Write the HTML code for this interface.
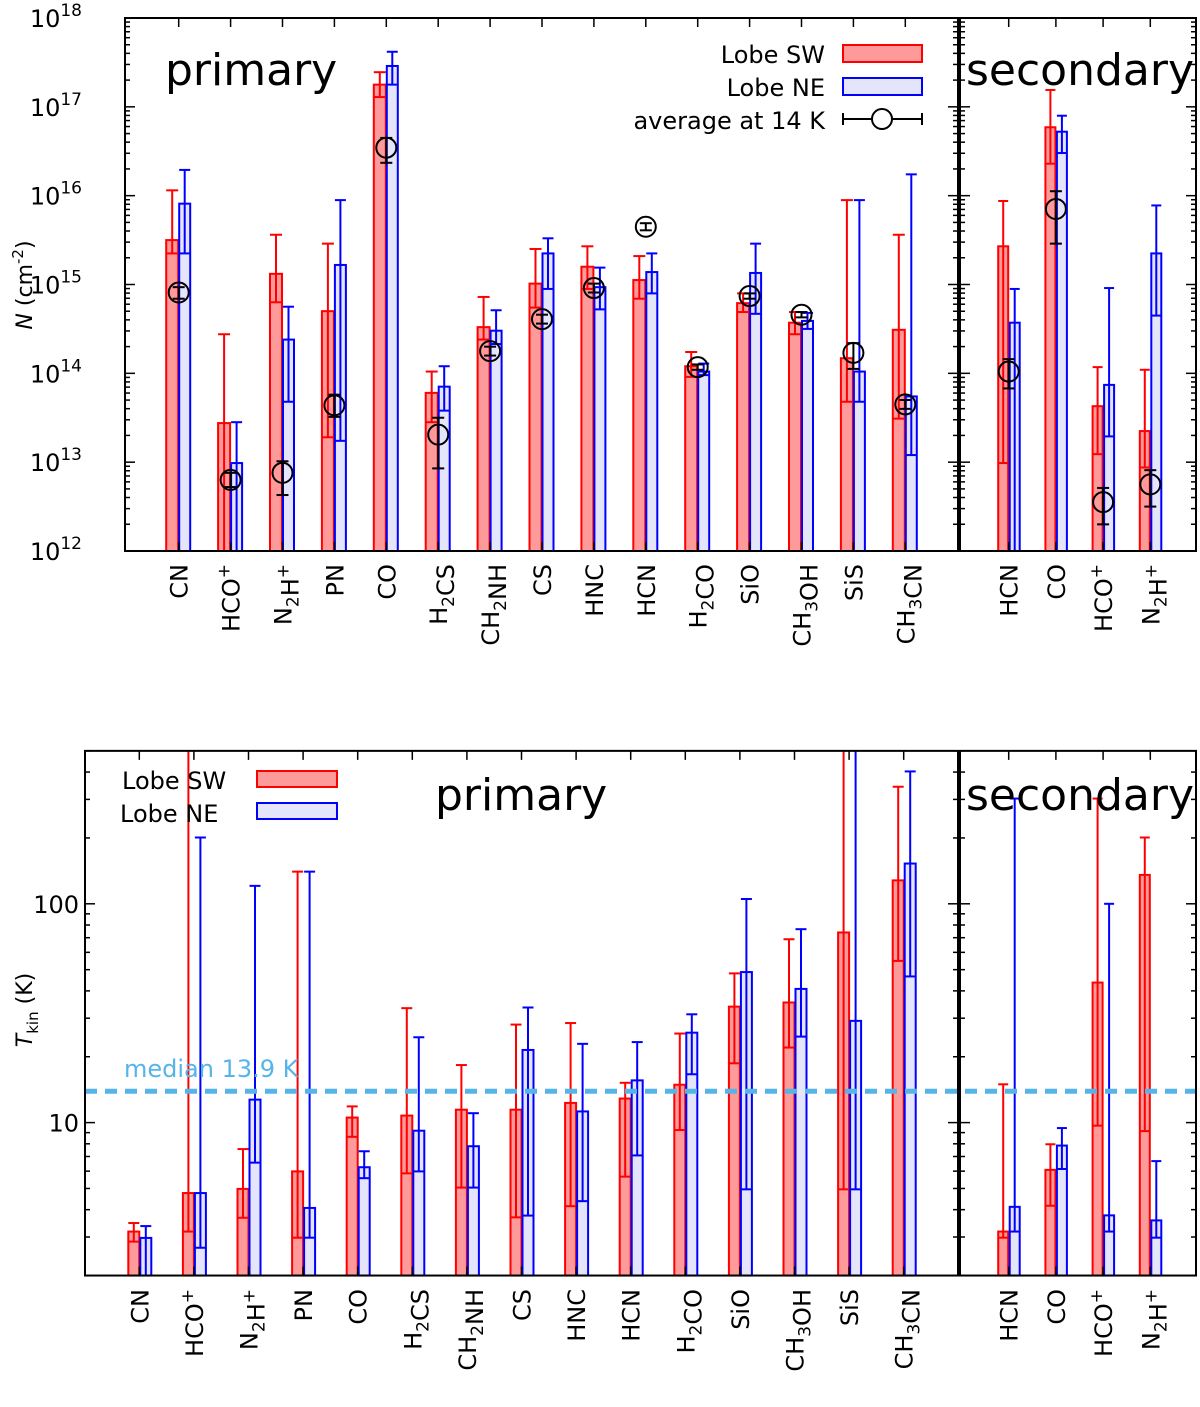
<!DOCTYPE html>
<html><head><meta charset="utf-8"><style>
body{margin:0;background:#fff}
svg{display:block;font-family:"DejaVu Sans","Liberation Sans",sans-serif}
</style></head><body>
<svg id="fig" width="1200" height="1407" viewBox="0 0 1200 1407" xmlns="http://www.w3.org/2000/svg"></svg>
<script>
// ---------- DATA ----------
const primaryCats = ["CN","HCO+","N2H+","PN","CO","H2CS","CH2NH","CS","HNC","HCN","H2CO","SiO","CH3OH","SiS","CH3CN"];
const secondaryCats = ["HCN","CO","HCO+","N2H+"];
// top panel: log10 N (cm^-2)
const swLogN   = [15.50,13.44,15.12,14.70,17.25,13.78,14.52,15.01,15.20,15.05,14.08,14.79,14.57,14.17,14.49];
const swLogNHi = [16.06,14.44,15.56,15.46,17.39,14.02,14.86,15.40,15.43,15.32,14.24,14.90,14.69,15.95,15.56];
const swLogNLo = [15.35,12.00,14.80,13.28,17.11,13.45,14.38,14.74,14.95,14.84,13.96,14.69,14.44,13.68,13.49];
const neLogN   = [15.91,12.99,14.38,15.22,17.46,13.85,14.48,15.35,14.97,15.14,14.02,15.13,14.59,14.02,13.74];
const neLogNHi = [16.29,13.45,14.75,15.95,17.62,14.08,14.71,15.52,15.19,15.35,14.11,15.46,14.68,15.95,16.24];
const neLogNLo = [15.35,12.00,13.68,13.24,17.25,13.58,14.33,14.95,14.72,14.90,13.98,14.67,14.50,13.68,13.08];
const avgLogN   = [14.91,12.80,12.88,13.64,16.54,13.31,14.25,14.61,14.96,15.65,14.07,14.87,14.66,14.23,13.65];
const avgLogNLo = [14.84,12.72,12.63,13.51,16.37,12.93,14.20,14.56,14.91,15.61,14.04,14.84,14.63,14.05,13.60];
const avgLogNHi = [14.97,12.88,13.01,13.76,16.65,13.50,14.30,14.66,15.01,15.69,14.10,14.90,14.69,14.34,13.70];
const swLogN2   = [15.43,16.77,13.63,13.35];
const swLogN2Hi = [15.94,17.19,14.07,14.04];
const swLogN2Lo = [12.99,16.36,13.09,12.94];
const neLogN2   = [14.57,16.72,13.87,15.35];
const neLogN2Hi = [14.95,16.90,14.96,15.89];
const neLogN2Lo = [12.00,16.48,13.29,14.65];
const avgLogN2   = [14.02,15.85,12.55,12.75];
const avgLogN2Lo = [13.83,15.46,12.30,12.50];
const avgLogN2Hi = [14.16,16.05,12.71,12.91];
// bottom panel: log10 Tkin (K)
const swLogT   = [0.502,0.678,0.697,0.777,1.023,1.032,1.059,1.059,1.090,1.110,1.173,1.530,1.549,1.869,2.107];
const swLogTHi = [0.541,2.800,0.879,2.147,1.074,1.523,1.263,1.448,1.455,1.182,1.407,1.682,1.838,2.800,2.535];
const swLogTLo = [0.456,0.502,0.565,0.474,0.935,0.768,0.703,0.567,0.618,0.753,0.966,1.271,1.343,0.695,1.739];
const neLogT   = [0.473,0.678,1.105,0.610,0.796,0.963,0.892,1.332,1.051,1.193,1.411,1.688,1.611,1.465,2.184];
const neLogTHi = [0.527,2.303,2.082,2.147,0.869,1.390,1.043,1.526,1.360,1.368,1.495,2.022,1.884,2.800,2.605];
const neLogTLo = [0.300,0.428,0.817,0.474,0.746,0.777,0.703,0.575,0.641,0.850,1.221,0.695,1.393,0.695,1.668];
const swLogT2   = [0.502,0.784,1.640,2.132];
const swLogT2Hi = [1.175,0.901,2.481,2.303];
const swLogT2Lo = [0.474,0.620,0.986,0.961];
const neLogT2   = [0.615,0.895,0.576,0.553];
const neLogT2Hi = [2.481,0.975,2.000,0.824];
const neLogT2Lo = [0.502,0.788,0.502,0.474];
const medianT = 13.9;
const topTickExps = [12,13,14,15,16,17,18];
const bottomTickLabels = [10,100];

// ---------- helpers ----------
const NS="http://www.w3.org/2000/svg";
const svg=document.getElementById('fig');
const FS=24;
function mk(tag,attrs,parent){const e=document.createElementNS(NS,tag);for(const k in attrs)e.setAttribute(k,attrs[k]);(parent||svg).appendChild(e);return e;}
function fmtLabel(s){return s.replace(/(\d)/g,'<tspan font-size="17" dy="7">$1</tspan><tspan dy="-7"></tspan>').replace(/\+/g,'<tspan font-size="17" dy="-10">+</tspan><tspan dy="10"></tspan>');}

const topY = lg => 551 - (lg-12)*(533/6);
const botY = lg => 1122.6 - (lg-1)*218.8;
const Lmin2 = Math.log10(2), Lmax5 = Math.log10(500);
const topXp = i => 178.7 + 51.9*i;
const topXs = i => 1008.7 + 47.2*i;
const botXp = i => 139.3 + 54.6*i;
const botXs = i => 1008.7 + 47.2*i;

function frame(x0,y0,x1,y1,name){
  const r=mk('rect',{x:x0,y:y0,width:x1-x0,height:y1-y0,fill:'none',stroke:'#000','stroke-width':2});
  
  
}
function logTicks(x0,x1,lo,hi,yf,y0,y1,both){
  const g=mk('g',{stroke:'#000','stroke-width':1.5});
  
  
  for(let d=Math.floor(lo);d<=Math.ceil(hi);d++){
    for(let m=1;m<10;m++){
      const lg=d+Math.log10(m); if(lg<lo-1e-6||lg>hi+1e-6) continue;
      const y=yf(lg); const L=m===1?10:5;
      if(y<y0-0.5||y>y1+0.5) continue;
      mk('line',{x1:x0,x2:x0+L,y1:y,y2:y},g);
      if(both) mk('line',{x1:x1,x2:x1-L,y1:y,y2:y},g);
    }
  }
}
function xTicks(n,xf,y0,y1){
  const g=mk('g',{stroke:'#000','stroke-width':1.5});
  
  
  for(let i=0;i<n;i++){const x=xf(i);mk('line',{x1:x,x2:x,y1:y0,y2:y0+9},g);mk('line',{x1:x,x2:x,y1:y1,y2:y1-9},g);}
}
function xLabels(cats,xf,yEnd){
  cats.forEach((c,i)=>{
    const x=xf(i)+9;
    const t=mk('text',{transform:`translate(${x},${yEnd}) rotate(-90)`,'text-anchor':'end','font-size':FS,fill:'#000'});
    
    
    t.innerHTML=fmtLabel(c);
  });
}
function bars(vals,hi,lo,xf,yf,off,w,fill,stroke,base,yTop,name){
  vals.forEach((v,i)=>{
    const xl=xf(i)+off, xc=xl+w/2, y=yf(v);
    const r=mk('rect',{x:xl,y:y,width:w,height:base-y,fill:fill,stroke:stroke,'stroke-width':2});
    
    
    let yh=yf(hi[i]); const clipped=yh<yTop; if(clipped) yh=yTop;
    let yl=yf(lo[i]); const lowOut=yl>base; if(lowOut) yl=base;
    const g=mk('g',{stroke:stroke,'stroke-width':2});
    
    
    mk('line',{x1:xc,x2:xc,y1:yh,y2:yl},g);
    if(!clipped) mk('line',{x1:xl,x2:xl+w,y1:yh,y2:yh},g);
    if(!lowOut) mk('line',{x1:xl,x2:xl+w,y1:yl,y2:yl},g);
  });
}
function avgPts(vals,lo,hi,xf,yf,name){
  vals.forEach((v,i)=>{
    const x=xf(i), y=yf(v);
    const g=mk('g',{stroke:'#000','stroke-width':2,fill:'none'});
    
    
    const yh=yf(hi[i]), yl=yf(lo[i]);
    mk('line',{x1:x,x2:x,y1:yh,y2:yl},g);
    mk('line',{x1:x-6,x2:x+6,y1:yh,y2:yh},g);
    mk('line',{x1:x-6,x2:x+6,y1:yl,y2:yl},g);
    mk('circle',{cx:x,cy:y,r:10},g);
  });
}
function txt(x,y,s,size,anchor,name,color){
  const t=mk('text',{x:x,y:y,'font-size':size,'text-anchor':anchor||'start',fill:color||'#000'});
  
  
  t.innerHTML=s; return t;
}
const RED_F='#ff9a9a', BLUE_F='#e4e4fa';

// ---------- TOP PANEL ----------
bars(swLogN,swLogNHi,swLogNLo,topXp,topY,-12.5,12,RED_F,'#ff0000',551,18,'top-sw');
bars(neLogN,neLogNHi,neLogNLo,topXp,topY,0.5,11,BLUE_F,'#0000ff',551,18,'top-ne');
avgPts(avgLogN,avgLogNLo,avgLogNHi,topXp,topY,'top-avg');
bars(swLogN2,swLogN2Hi,swLogN2Lo,topXs,topY,-10.5,10,RED_F,'#ff0000',551,18,'top-sec-sw');
bars(neLogN2,neLogN2Hi,neLogN2Lo,topXs,topY,1,10,BLUE_F,'#0000ff',551,18,'top-sec-ne');
avgPts(avgLogN2,avgLogN2Lo,avgLogN2Hi,topXs,topY,'top-sec-avg');
frame(125,18,958,551,'top-primary-frame');
frame(960,18,1196,551,'top-secondary-frame');
logTicks(125,958,12,18,topY,18,551,true);
logTicks(960,1196,12,18,topY,18,551,true);
xTicks(15,topXp,18,551);
xTicks(4,topXs,18,551);
topTickExps.forEach(e=>{txt(82,topY(e)+9,'10<tspan font-size="17" dy="-11">'+e+'</tspan>',FS,'end','y-tick-label-1e'+e);});
xLabels(primaryCats,topXp,564);
xLabels(secondaryCats,topXs,564);
txt(165,85,'primary',44,'start','top-primary-title');
txt(966,85,'secondary',44,'start','top-secondary-title');
(function(){const t=mk('text',{transform:'translate(32,285) rotate(-90)','text-anchor':'middle','font-size':22});


t.innerHTML='<tspan font-style="italic">N</tspan> (cm<tspan font-size="15" dy="-9">-2</tspan><tspan dy="9">)</tspan>';})();
txt(825,63,'Lobe SW',FS,'end','legend-top-sw-label');
(function(){const r=mk('rect',{x:843,y:45,width:79,height:17,fill:RED_F,stroke:'#ff0000','stroke-width':2});
const b=mk('rect',{x:843,y:78,width:79,height:17,fill:BLUE_F,stroke:'#0000ff','stroke-width':2});
const g=mk('g',{stroke:'#000','stroke-width':2,fill:'none'});
mk('line',{x1:843,x2:922,y1:119,y2:119},g);mk('line',{x1:843,x2:843,y1:113,y2:125},g);mk('line',{x1:922,x2:922,y1:113,y2:125},g);mk('circle',{cx:882,cy:119,r:10,fill:'#fff'},g);})();
txt(825,96,'Lobe NE',FS,'end','legend-top-ne-label');
txt(825,129,'average at 14 K',FS,'end','legend-top-avg-label');

// ---------- BOTTOM PANEL ----------
const bb=botY(Lmin2), bt=botY(Lmax5);
bars(swLogT,swLogTHi,swLogTLo,botXp,botY,-11,11,RED_F,'#ff0000',bb,bt,'bottom-sw');
bars(neLogT,neLogTHi,neLogTLo,botXp,botY,1,11,BLUE_F,'#0000ff',bb,bt,'bottom-ne');
bars(swLogT2,swLogT2Hi,swLogT2Lo,botXs,botY,-10.5,10,RED_F,'#ff0000',bb,bt,'bottom-sec-sw');
bars(neLogT2,neLogT2Hi,neLogT2Lo,botXs,botY,1,10,BLUE_F,'#0000ff',bb,bt,'bottom-sec-ne');
(function(){const ym=botY(Math.log10(medianT));
const l=mk('line',{x1:85,x2:1196,y1:ym,y2:ym,stroke:'#56b4e9','stroke-width':5,'stroke-dasharray':'12 8'});
})();
txt(124,1077,'median 13.9 K',FS,'start','median-label','#56b4e9');
frame(85,bt,958,bb,'bottom-primary-frame');
frame(960,bt,1196,bb,'bottom-secondary-frame');
logTicks(85,958,Lmin2,Lmax5,botY,bt,bb,true);
logTicks(960,1196,Lmin2,Lmax5,botY,bt,bb,true);
xTicks(15,botXp,bt,bb);
xTicks(4,botXs,bt,bb);
bottomTickLabels.forEach(v=>{txt(79,botY(Math.log10(v))+9,String(v),FS,'end','y-tick-label-'+v);});
xLabels(primaryCats,botXp,1289);
xLabels(secondaryCats,botXs,1289);
txt(435,810,'primary',44,'start','bottom-primary-title');
txt(966,810,'secondary',44,'start','bottom-secondary-title');
(function(){const t=mk('text',{transform:'translate(32,1010) rotate(-90)','text-anchor':'middle','font-size':22});


t.innerHTML='<tspan font-style="italic">T</tspan><tspan font-size="15" dy="6">kin</tspan><tspan dy="-6"> (K)</tspan>';})();
txt(122,789,'Lobe SW',FS,'start','legend-bottom-sw-label');
txt(120,822,'Lobe NE',FS,'start','legend-bottom-ne-label');
(function(){const r=mk('rect',{x:257,y:771,width:80,height:16,fill:RED_F,stroke:'#ff0000','stroke-width':2});
const b=mk('rect',{x:257,y:803,width:80,height:16,fill:BLUE_F,stroke:'#0000ff','stroke-width':2});})();
</script>
</body></html>
